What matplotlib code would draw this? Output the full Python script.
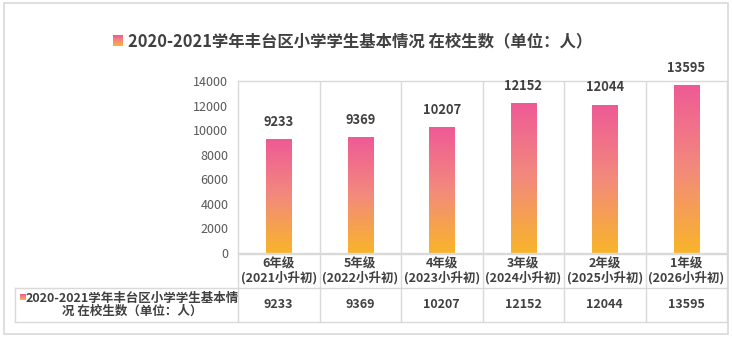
import numpy as np
import matplotlib
matplotlib.use("Agg")
import matplotlib.pyplot as plt
from matplotlib.colors import LinearSegmentedColormap
from matplotlib.patches import Rectangle

plt.rcParams['font.family'] = ['Noto Sans CJK SC', 'DejaVu Sans']

# data
title = "2020-2021学年丰台区小学学生基本情况 在校生数（单位：人）"
series_name = "2020-2021学年丰台区小学学生基本情\n况 在校生数（单位：人）"
grades = ["6年级\n(2021小升初)", "5年级\n(2022小升初)", "4年级\n(2023小升初)",
          "3年级\n(2024小升初)", "2年级\n(2025小升初)", "1年级\n(2026小升初)"]
students = [9233, 9369, 10207, 12152, 12044, 13595]
yticks = [0, 2000, 4000, 6000, 8000, 10000, 12000, 14000]

TEXT = "#404040"
GRID = "#D9D9D9"
cmap = LinearSegmentedColormap.from_list("pink_orange", ["#F8B52A", "#F38A7C", "#EE5A96"])
grad = np.linspace(0, 1, 256).reshape(-1, 1)

W, H = 732, 340
fig = plt.figure(figsize=(W / 100, H / 100), dpi=100)

# pixel overlay for frame, title and data table
ov = fig.add_axes([0, 0, 1, 1])
ov.set_xlim(0, W)
ov.set_ylim(H, 0)
ov.axis("off")
ov.set_autoscale_on(False)

ov.add_patch(Rectangle((4, 3), 724, 331, fill=False, edgecolor=GRID, lw=1.2))

# title with legend key
ov.imshow(grad, cmap=cmap, origin="lower", aspect="auto", extent=[113, 123, 46, 35])
ov.text(128, 41, title, ha="left", va="center", fontsize=11.8,
        fontweight="bold", color=TEXT)

# plot area
left, right, top, bottom = 238, 727, 81, 253
ax = fig.add_axes([left / W, 1 - bottom / H, (right - left) / W, (bottom - top) / H])
x = np.arange(len(students))
bars = ax.bar(x, students, width=0.31, color="none", zorder=2)
for b in bars:
    ax.imshow(grad, cmap=cmap, origin="lower", aspect="auto", zorder=2,
              extent=[b.get_x(), b.get_x() + b.get_width(), 0, b.get_height()])
for xi, v in zip(x, students):
    ax.annotate(f"{v}", (xi, v), xytext=(0, 13), textcoords="offset points",
                ha="center", va="center", fontsize=9.3, fontweight="bold",
                color=TEXT, annotation_clip=False)
ax.set_xlim(-0.5, len(students) - 0.5)
ax.set_ylim(0, 14000)
ax.set_yticks(yticks)
ax.set_xticks([])
ax.tick_params(axis="y", length=0, pad=7, labelsize=9, labelcolor="#595959")
for xb in np.arange(0.5, len(students) - 0.5):
    ax.axvline(xb, color=GRID, lw=1, zorder=1)
for s in ax.spines.values():
    s.set_color(GRID)
    s.set_linewidth(1)

# data table
cw = (right - left) / len(students)
r0, r1, r2 = 254, 288, 322
lkw = dict(color=GRID, lw=1)
ov.plot([left, right], [r0, r0], **lkw)
ov.plot([15, right], [r1, r1], **lkw)
ov.plot([15, right], [r2, r2], **lkw)
ov.plot([15, 15], [r1, r2], **lkw)
for k in range(len(students) + 1):
    xl = left + k * cw
    ov.plot([xl, xl], [r0, r2], **lkw)

for k, (g, v) in enumerate(zip(grades, students)):
    cx = left + (k + 0.5) * cw
    ov.text(cx, (r0 + r1) / 2, g, ha="center", va="center", fontsize=9,
            fontweight="bold", color=TEXT, linespacing=1.05)
    ov.text(cx, (r1 + r2) / 2, f"{v}", ha="center", va="center", fontsize=9,
            fontweight="bold", color=TEXT)

ov.imshow(grad, cmap=cmap, origin="lower", aspect="auto", extent=[20, 26, 300, 294])
ov.text(132, (r1 + r2) / 2, series_name, ha="center", va="center", fontsize=9,
        fontweight="bold", color=TEXT, linespacing=1.05)

fig.savefig("out.png", dpi=100, facecolor="white")
